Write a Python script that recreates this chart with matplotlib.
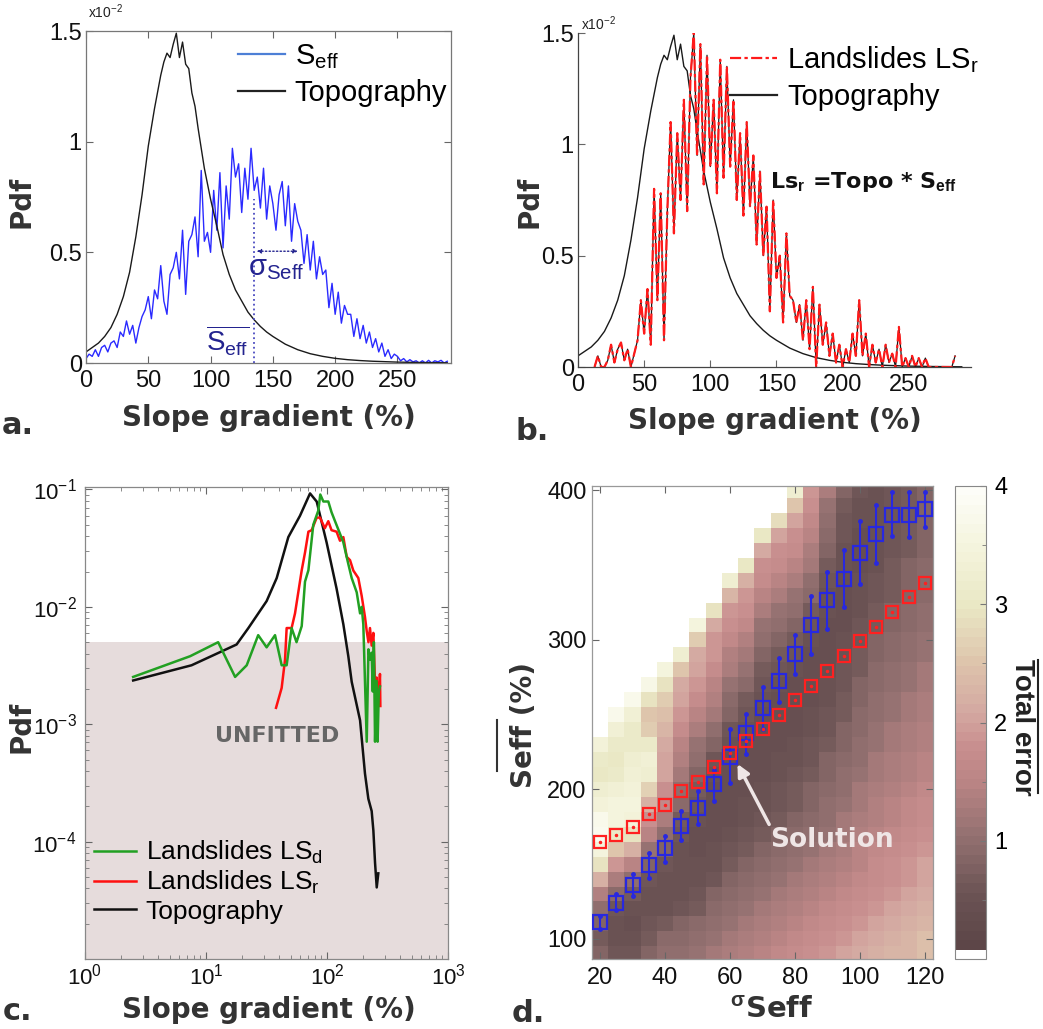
import numpy as np
import matplotlib
matplotlib.use("Agg")
import matplotlib.pyplot as plt
from matplotlib.colors import LinearSegmentedColormap, ListedColormap
from matplotlib.lines import Line2D
from matplotlib.ticker import FixedLocator

plt.rcParams['font.family'] = ['Liberation Sans', 'DejaVu Sans']
plt.rcParams['mathtext.fontset'] = 'custom'
plt.rcParams['mathtext.rm'] = 'Liberation Sans'
plt.rcParams['mathtext.it'] = 'Liberation Sans:italic'
plt.rcParams['mathtext.bf'] = 'Liberation Sans:bold'

# ---------------- data: panels a / b (pdf in units of 1e-2) ----------------
topo_x = [0, 5, 10, 15, 20, 25, 30, 35, 40, 45, 50, 55, 60, 62.5, 65, 67.5, 70,
          72.5, 75, 77.5, 80, 82.5, 85, 87.5, 90, 95, 100, 105, 110, 115, 120,
          125, 130, 135, 140, 145, 150, 160, 170, 180, 190, 200, 210, 220, 230,
          240, 250, 260, 270, 280, 290]
topo_pdf = [0.05, 0.07, 0.09, 0.12, 0.16, 0.22, 0.30, 0.41, 0.57, 0.76, 0.98,
            1.15, 1.30, 1.36, 1.40, 1.38, 1.44, 1.49, 1.38, 1.45, 1.35, 1.33,
            1.22, 1.16, 1.06, 0.88, 0.74, 0.62, 0.49, 0.40, 0.33, 0.28, 0.23,
            0.195, 0.165, 0.14, 0.12, 0.085, 0.06, 0.042, 0.03, 0.021, 0.015,
            0.011, 0.008, 0.006, 0.004, 0.003, 0.002, 0.0015, 0.001]

seff_x = np.arange(0, 290.1, 2.5)
seff_pdf = [0.02, 0.04, 0.03, 0.06, 0.03, 0.07, 0.08, 0.05, 0.09, 0.10,
            0.07, 0.14, 0.12, 0.19, 0.13, 0.17, 0.09, 0.16, 0.21, 0.24,
            0.30, 0.20, 0.33, 0.29, 0.44, 0.28, 0.22, 0.40, 0.43, 0.50,
            0.38, 0.60, 0.31, 0.55, 0.58, 0.66, 0.48, 0.87, 0.55, 0.59,
            0.50, 0.78, 0.60, 0.86, 0.52, 0.80, 0.65, 0.97, 0.84, 0.90,
            0.68, 0.88, 0.74, 0.97, 0.78, 0.84, 0.70, 0.88, 0.65, 0.80,
            0.72, 0.60, 0.76, 0.82, 0.62, 0.80, 0.55, 0.72, 0.64, 0.60,
            0.45, 0.58, 0.42, 0.55, 0.38, 0.48, 0.40, 0.42, 0.25, 0.36,
            0.22, 0.32, 0.18, 0.26, 0.22, 0.22, 0.12, 0.20, 0.11, 0.17,
            0.09, 0.14, 0.07, 0.11, 0.05, 0.09, 0.03, 0.06, 0.02, 0.04,
            0.03, 0.01, 0.02, 0.005, 0.015, 0.005, 0.01, 0.0, 0.01, 0.0,
            0.012, 0.0, 0.01, 0.005, 0.012, 0.0, 0.008]
seff_mean = 135
seff_mean_top = 0.74
sigma_span = (137, 170)
sigma_level = 0.505

lsr_x = np.arange(12.5, 285.1, 2.5)
lsr_pdf = [0.0, 0.05, 0.0, 0.0, 0.03, 0.10, 0.02, 0.08, 0.11, 0.03,
           0.08, 0.0, 0.06, 0.12, 0.30, 0.15, 0.35, 0.10, 0.80, 0.30,
           0.78, 0.12, 0.70, 1.10, 0.60, 1.05, 0.75, 1.20, 0.70, 1.30,
           1.50, 0.95, 1.45, 0.82, 1.40, 0.90, 1.20, 0.78, 1.38, 0.85,
           1.35, 0.90, 1.20, 0.75, 1.05, 0.68, 1.10, 0.72, 0.95, 0.55,
           0.88, 0.50, 0.72, 0.25, 0.75, 0.40, 0.50, 0.20, 0.60, 0.32,
           0.30, 0.20, 0.28, 0.12, 0.30, 0.08, 0.36, 0.0, 0.28, 0.10,
           0.20, 0.05, 0.15, 0.02, 0.10, 0.0, 0.08, 0.02, 0.15, 0.05,
           0.30, 0.05, 0.15, 0.0, 0.10, 0.02, 0.08, 0.0, 0.10, 0.02,
           0.06, 0.0, 0.18, 0.0, 0.04, 0.0, 0.05, 0.0, 0.04, 0.0,
           0.04, 0.0, 0.0, 0.0, 0.0, 0.0, 0.0, 0.0, 0.0, 0.05]

# ---------------- data: panel c (log-log) ----------------
topo_c_x = [2.5, 7.6, 17.9, 22.4, 31.7, 38.4, 47.9, 59.8, 72.4, 82.2, 99.3,
            120, 136.5, 150, 160, 187.6, 206, 219.6, 234, 241.7, 249.5, 257.6,
            265.5]
topo_c_y = [2.36e-3, 3.18e-3, 4.78e-3, 6.6e-3, 1.12e-2, 1.76e-2, 3.93e-2,
            5.97e-2, 9.26e-2, 7.89e-2, 3.53e-2, 1.43e-2, 7.1e-3, 3.8e-3,
            2.3e-3, 1.08e-3, 3.8e-4, 2.32e-4, 1.82e-4, 1.24e-4, 6.6e-5,
            4.07e-5, 5.37e-5]
lsr_c_x = [37.9, 42.2, 45, 46.4, 51, 54.4, 61.8, 65.8, 70.2, 74.7, 82.2, 87.5,
           96, 102.5, 109, 120, 128, 136.5, 145.5, 155, 165, 181.5, 193.5, 206,
           213, 220, 226.6, 234, 241.7, 249.5, 257, 265.5, 274, 276]
lsr_c_y = [1.38e-3, 2.04e-3, 3.55e-3, 6.6e-3, 6.6e-3, 8.8e-3, 2.05e-2, 2.9e-2,
           4.37e-2, 4.5e-2, 5.76e-2, 5.76e-2, 4.68e-2, 5.37e-2, 4.5e-2,
           4.37e-2, 3.66e-2, 3.93e-2, 2.67e-2, 2.5e-2, 2.04e-2, 1.76e-2,
           1.24e-2, 8.2e-3, 6.2e-3, 5.0e-3, 6.6e-3, 4.68e-3, 6.0e-3, 2.18e-3,
           2.5e-3, 1.43e-3, 2.68e-3, 1.43e-3]
lsd_c_x = [2.5, 7.4, 12.6, 17.4, 21.7, 27, 31.7, 37.2, 42.2, 46.4, 51, 56,
           61.8, 65.8, 70.2, 77, 84.7, 88, 93.3, 102.5, 109, 116.5, 128, 136.5,
           150, 160, 176, 187.6, 193.5, 199.6, 213, 220, 226.6, 234, 239, 244,
           249.5, 257, 262, 268, 274]
lsd_c_y = [2.53e-3, 3.8e-3, 5.0e-3, 2.53e-3, 3.18e-3, 5.74e-3, 4.52e-3,
           5.74e-3, 3.18e-3, 3.18e-3, 6.6e-3, 5.0e-3, 6.85e-3, 1.64e-2,
           2.05e-2, 5.0e-2, 6.6e-2, 9.06e-2, 7.9e-2, 7.9e-2, 6.4e-2, 5.37e-2,
           4.2e-2, 3.54e-2, 2.32e-2, 1.76e-2, 1.33e-2, 8.8e-3, 1.0e-2, 7.1e-3,
           7.1e-4, 4.35e-3, 3.55e-3, 4.07e-3, 1.9e-3, 5.0e-3, 7.1e-4, 2.34e-3,
           7.1e-4, 1.9e-3, 2.1e-3]
unfitted_level = 5e-3

# ---------------- data: panel d (total error grid) ----------------
sigma_cols = [20, 25, 30, 35, 40, 45, 50, 55, 60, 65, 70, 75, 80, 85, 90, 95,
              100, 105, 110, 115, 120]
seff_rows = list(range(90, 401, 10))
# one list per sigma column, values from Seff=90 upwards; missing top = blank
err_cols = [
    [0.8, 0.7, 0.8, 1.0, 1.4, 2.2, 2.9, 3.5, 3.8, 3.7, 3.4, 3.2, 3.0, 3.1, 3.4],
    [0.6, 0.5, 0.5, 0.6, 0.9, 1.3, 1.9, 2.5, 3.1, 3.5, 3.5, 3.3, 3.1, 3.0, 3.1,
     3.3, 3.7],
    [0.6, 0.5, 0.4, 0.5, 0.7, 1.0, 1.5, 2.2, 2.9, 3.4, 3.5, 3.4, 3.3, 3.2, 3.1,
     3.1, 3.3, 3.7],
    [0.8, 0.7, 0.6, 0.5, 0.5, 0.6, 0.8, 1.1, 1.5, 1.8, 2.2, 2.7, 3.2, 3.3, 3.1,
     2.6, 2.5, 2.9, 3.6],
    [1.0, 0.9, 0.7, 0.5, 0.5, 0.5, 0.6, 0.8, 1.0, 1.3, 1.6, 1.8, 2.0, 2.0, 2.1,
     2.3, 2.4, 2.6, 2.9, 3.5],
    [1.0, 0.9, 0.8, 0.6, 0.5, 0.5, 0.5, 0.5, 0.6, 0.7, 0.9, 1.0, 1.2, 1.4, 1.5,
     1.7, 1.9, 2.0, 2.1, 2.5, 3.2],
    [1.1, 1.0, 0.9, 0.7, 0.6, 0.5, 0.5, 0.4, 0.4, 0.5, 0.6, 0.7, 0.8, 1.0, 1.1,
     1.3, 1.5, 1.7, 1.9, 2.0, 2.1, 2.6, 3.5],
    [1.2, 1.1, 1.0, 0.9, 0.8, 0.6, 0.5, 0.5, 0.4, 0.4, 0.4, 0.4, 0.5, 0.6, 0.8,
     1.0, 1.2, 1.4, 1.5, 1.7, 1.9, 1.9, 2.1, 2.9],
    [1.3, 1.2, 1.1, 1.0, 0.9, 0.8, 0.7, 0.6, 0.5, 0.4, 0.4, 0.4, 0.4, 0.4, 0.5,
     0.6, 0.8, 0.9, 1.1, 1.3, 1.4, 1.6, 1.8, 1.9, 2.3, 3.2],
    [1.4, 1.3, 1.2, 1.1, 1.0, 0.9, 0.8, 0.7, 0.6, 0.5, 0.5, 0.4, 0.4, 0.4, 0.4,
     0.5, 0.6, 0.7, 0.9, 1.1, 1.2, 1.4, 1.6, 1.8, 1.9, 2.2, 3.0],
    [1.5, 1.4, 1.3, 1.2, 1.1, 1.0, 0.9, 0.8, 0.7, 0.6, 0.5, 0.5, 0.4, 0.4, 0.4,
     0.4, 0.4, 0.5, 0.6, 0.7, 0.8, 1.0, 1.1, 1.3, 1.5, 1.7, 1.8, 2.1, 3.0],
    [1.6, 1.5, 1.4, 1.3, 1.2, 1.1, 1.0, 0.9, 0.8, 0.7, 0.6, 0.6, 0.5, 0.5, 0.4,
     0.4, 0.4, 0.4, 0.5, 0.6, 0.7, 0.8, 1.0, 1.1, 1.3, 1.5, 1.7, 1.8, 2.0, 2.8],
    [1.7, 1.6, 1.5, 1.4, 1.3, 1.2, 1.1, 1.0, 0.9, 0.8, 0.7, 0.7, 0.6, 0.5, 0.5,
     0.4, 0.4, 0.4, 0.4, 0.5, 0.6, 0.7, 0.8, 1.0, 1.1, 1.3, 1.5, 1.7, 1.8, 2.0,
     2.5, 3.2],
    [1.8, 1.7, 1.6, 1.5, 1.4, 1.3, 1.2, 1.1, 1.0, 0.9, 0.8, 0.8, 0.7, 0.6, 0.6,
     0.5, 0.5, 0.4, 0.4, 0.4, 0.4, 0.5, 0.6, 0.7, 0.9, 1.0, 1.2, 1.3, 1.5, 1.6,
     1.8, 1.9],
    [1.9, 1.8, 1.7, 1.6, 1.5, 1.4, 1.3, 1.2, 1.1, 1.0, 1.0, 0.9, 0.8, 0.8, 0.7,
     0.6, 0.6, 0.5, 0.5, 0.4, 0.4, 0.4, 0.4, 0.5, 0.5, 0.6, 0.7, 0.8, 0.9, 1.0,
     1.1, 1.3],
    [2.0, 1.9, 1.8, 1.7, 1.6, 1.5, 1.4, 1.3, 1.2, 1.2, 1.1, 1.0, 1.0, 0.9, 0.8,
     0.8, 0.7, 0.7, 0.6, 0.6, 0.5, 0.5, 0.4, 0.4, 0.4, 0.4, 0.5, 0.5, 0.6, 0.6,
     0.7, 0.8],
    [2.1, 2.0, 1.9, 1.8, 1.7, 1.6, 1.5, 1.5, 1.4, 1.3, 1.2, 1.2, 1.1, 1.0, 1.0,
     0.9, 0.9, 0.8, 0.8, 0.7, 0.7, 0.6, 0.6, 0.5, 0.5, 0.5, 0.4, 0.4, 0.4, 0.5,
     0.5, 0.6],
    [2.2, 2.1, 2.0, 1.9, 1.8, 1.7, 1.7, 1.6, 1.5, 1.4, 1.4, 1.3, 1.2, 1.2, 1.1,
     1.1, 1.0, 1.0, 0.9, 0.9, 0.8, 0.8, 0.7, 0.7, 0.6, 0.6, 0.5, 0.5, 0.5, 0.5,
     0.5, 0.5],
    [2.3, 2.2, 2.1, 2.0, 1.9, 1.8, 1.8, 1.7, 1.6, 1.5, 1.5, 1.4, 1.3, 1.3, 1.2,
     1.2, 1.1, 1.1, 1.0, 1.0, 0.9, 0.9, 0.8, 0.8, 0.7, 0.7, 0.7, 0.6, 0.6, 0.6,
     0.6, 0.6],
    [2.3, 2.3, 2.2, 2.1, 2.0, 1.9, 1.9, 1.8, 1.7, 1.6, 1.6, 1.5, 1.4, 1.4, 1.3,
     1.3, 1.2, 1.2, 1.1, 1.1, 1.0, 1.0, 0.9, 0.9, 0.8, 0.8, 0.8, 0.7, 0.7, 0.7,
     0.7, 0.7],
    [2.4, 2.4, 2.3, 2.2, 2.1, 2.0, 2.0, 1.9, 1.8, 1.7, 1.7, 1.6, 1.5, 1.5, 1.4,
     1.4, 1.3, 1.3, 1.2, 1.2, 1.1, 1.1, 1.0, 1.0, 0.9, 0.9, 0.9, 0.8, 0.8, 0.8,
     0.8, 0.8],
]
fit_blue = [111.2, 124.3, 135.7, 149.3, 160.5, 175.5, 187.4, 203.3, 221.9,
            237.4, 254.5, 272.6, 290.5, 309.8, 326.7, 340.9, 358.3, 370.7,
            383.8, 383.8, 387.4]
fit_blue_hi = [115.5, 129.8, 143.3, 157.6, 169, 185.5, 198.6, 212.9, 240.2,
               250.5, 268.3, 287.9, 303.6, 329.1, 345.7, 360.5, 379.8, 390.2,
               398.8, 398.8, 399.3]
fit_blue_lo = [106.4, 119, 128.6, 141, 151.7, 166, 176.7, 192.1, 204, 223.8,
               240.2, 258.3, 277.1, 290.9, 307.6, 321.9, 337.4, 351.7, 369.3,
               368.8, 375.5]
fit_red = [164.8, 169.5, 174.7, 183.8, 189.7, 198.6, 204.8, 214.8, 224.3,
           232.6, 240.5, 249.8, 259.5, 269.5, 279.5, 289.3, 299.3, 308.8,
           318.4, 328.6, 338.1]
solution_xy = (62.3, 217)

# ---------------- layout helpers ----------------
W, H = 1043, 1029
fig = plt.figure(figsize=(W / 100, H / 100), dpi=100)


def box(l, t, r, b):
    return [l / W, 1 - b / H, (r - l) / W, (b - t) / H]


def fxy(x, y):
    return x / W, 1 - y / H


LAB = dict(family='DejaVu Sans', weight='bold', color='#333333')
NAVY = '#23238f'


def style(ax, spine='#777777', sides=True):
    ax.tick_params(direction='in', top=sides, right=sides, length=5, width=0.8,
                   color='#666666', labelcolor='#111111', labelsize=17)
    ax.tick_params(which='minor', direction='in', top=sides, right=sides,
                   length=3, width=0.6, color='#777777')
    for s in ax.spines.values():
        s.set_color(spine)
        s.set_linewidth(0.9)


# ---------------- panel a ----------------
ax_a = fig.add_axes(box(86, 31, 451, 363))
ax_a.plot(seff_x, seff_pdf, color='#2a2aff', lw=1.0)
ax_a.plot(topo_x, topo_pdf, color='#1a1a1a', lw=1.0)
ax_a.plot([seff_mean, seff_mean], [0, seff_mean_top], ls=':', color='#4a4ac0',
          lw=1.3)
ax_a.annotate('', xy=(sigma_span[0], sigma_level), xytext=(sigma_span[1], sigma_level),
              arrowprops=dict(arrowstyle='<|-|>', ls=':', color=NAVY, lw=1.0,
                              mutation_scale=6, shrinkA=0, shrinkB=0))
ax_a.text(153, 0.43, 'σ$_{\\mathrm{Seff}}$', color=NAVY, fontsize=21,
          ha='center', va='center')
ax_a.text(114, 0.10, r'$\overline{\mathrm{S}_{\mathrm{eff}}}$', color=NAVY,
          fontsize=20, ha='center', va='center')
ax_a.set_xlim(0, 293)
ax_a.set_ylim(0, 1.5)
ax_a.set_xticks([0, 50, 100, 150, 200, 250])
ax_a.set_yticks([0, 0.5, 1, 1.5])
ax_a.set_yticklabels(['0', '0.5', '1', '1.5'])
style(ax_a)
ax_a.tick_params(axis='x', pad=5)
ax_a.tick_params(axis='y', pad=3)
ax_a.legend([Line2D([], [], color='#4d7fd6', lw=1.6),
             Line2D([], [], color='#222222', lw=1.6)],
            ['S$_{\\mathrm{eff}}$', 'Topography'], loc='upper right',
            bbox_to_anchor=(0.99, 0.965), frameon=False, fontsize=21,
            handlelength=1.6, handletextpad=0.35, labelspacing=0.25,
            borderpad=0, borderaxespad=0)

# ---------------- panel b ----------------
ax_b = fig.add_axes(box(578, 33, 971, 367))
ax_b.plot(topo_x, topo_pdf, color='#1a1a1a', lw=1.0)
ax_b.plot(lsr_x, lsr_pdf, color='#1a1a1a', lw=0.9)
ax_b.plot(lsr_x, lsr_pdf, color='#ff1a1a', lw=1.6, ls=(0, (5, 1.5, 1.5, 1.5)))
ax_b.text(145, 0.83, r'Ls$_{\mathbf{r}}$ =Topo * S$_{\mathbf{eff}}$',
          fontsize=16, family='DejaVu Sans', weight='bold', color='#111111',
          ha='left', va='center')
ax_b.set_xlim(0, 297)
ax_b.set_ylim(0, 1.5)
ax_b.set_xticks([0, 50, 100, 150, 200, 250])
ax_b.set_yticks([0, 0.5, 1, 1.5])
ax_b.set_yticklabels(['0', '0.5', '1', '1.5'])
style(ax_b, spine='#444444', sides=False)
ax_b.spines['top'].set_visible(False)
ax_b.spines['right'].set_visible(False)
ax_b.tick_params(axis='x', pad=5)
ax_b.tick_params(axis='y', pad=3)
ax_b.legend([Line2D([], [], color='#ff1a1a', lw=1.6, ls=(0, (5, 1.5, 1.5, 1.5))),
             Line2D([], [], color='#222222', lw=1.6)],
            ['Landslides LS$_{\\mathrm{r}}$', 'Topography'], loc='upper right',
            bbox_to_anchor=(1.02, 0.965), frameon=False, fontsize=21,
            handlelength=1.6, handletextpad=0.35, labelspacing=0.25,
            borderpad=0, borderaxespad=0)

# ---------------- panel c ----------------
ax_c = fig.add_axes(box(85, 487, 448, 959))
ax_c.set_xscale('log')
ax_c.set_yscale('log')
ax_c.set_xlim(1, 1000)
ax_c.set_ylim(1e-5, 0.105)
ax_c.axhspan(1e-5, unfitted_level, color='#e6dcdc', lw=0, zorder=0)
ax_c.plot(topo_c_x, topo_c_y, color='#111111', lw=1.8, label='Topography')
ax_c.plot(lsr_c_x, lsr_c_y, color='#ff1010', lw=1.8,
          label='Landslides LS$_{\\mathrm{r}}$')
ax_c.plot(lsd_c_x, lsd_c_y, color='#22a022', lw=1.8,
          label='Landslides LS$_{\\mathrm{d}}$')
ax_c.text(38.6, 7.9e-4, 'UNFITTED', color='#666666', fontsize=16,
          family='DejaVu Sans', weight='bold', ha='center', va='center')
ax_c.set_xticks([1, 10, 100, 1000])
ax_c.set_yticks([1e-4, 1e-3, 1e-2, 1e-1])
style(ax_c, spine='#888888')
ax_c.tick_params(axis='both', labelsize=16)
ax_c.tick_params(axis='x', pad=3)
ax_c.tick_params(axis='y', pad=6)
hc, lc = ax_c.get_legend_handles_labels()
ax_c.legend(hc[::-1], lc[::-1], loc='lower left', bbox_to_anchor=(0.025, 0.075),
            frameon=False, fontsize=19, handlelength=1.6, handletextpad=0.35,
            labelspacing=0.12, borderpad=0, borderaxespad=0)

# ---------------- panel d ----------------
ax_d = fig.add_axes(box(592, 486, 933, 959))
grid = np.full((len(seff_rows), len(sigma_cols)), np.nan)
for j, col in enumerate(err_cols):
    grid[:len(col), j] = col
x_edges = np.append(np.array(sigma_cols) - 2.5, sigma_cols[-1] + 2.5)
y_edges = np.append(np.array(seff_rows) - 5, seff_rows[-1] + 5)

base = LinearSegmentedColormap.from_list('err', [
    (0.0, '#5a4446'), (0.125, '#6a5253'), (0.25, '#927070'), (0.375, '#bb8585'),
    (0.45, '#c98f8f'), (0.52, '#d3a7a1'), (0.625, '#ddc3ab'), (0.75, '#e9e7c4'),
    (0.875, '#f4f4dc'), (1.0, '#fdfdf8')])
levels = base(np.linspace(0, 1, 50))
levels[0] = (1, 1, 1, 1)
cmap = ListedColormap(levels)
cmap.set_bad('white')
mesh = ax_d.pcolormesh(x_edges, y_edges, np.ma.masked_invalid(grid), cmap=cmap,
                       vmin=0, vmax=4, shading='flat', antialiased=False)

blue = '#2828e0'
ax_d.vlines(sigma_cols, fit_blue_lo, fit_blue_hi, color=blue, lw=1.5, zorder=3)
ax_d.plot(sigma_cols, fit_blue_lo, '.', color=blue, ms=5, zorder=3)
ax_d.plot(sigma_cols, fit_blue_hi, '.', color=blue, ms=5, zorder=3)
ax_d.plot(sigma_cols, fit_blue, 's', mfc='none', mec=blue, mew=1.6, ms=10,
          zorder=4)
ax_d.plot(sigma_cols, fit_red, 's', mfc='none', mec='#ff2020', mew=1.6, ms=8,
          zorder=4)
ax_d.plot(sigma_cols, fit_red, '.', color='#ff2020', ms=3, zorder=4)
ax_d.annotate('Solution', xy=solution_xy, xytext=(72.5, 166),
              color='#efe6e6', fontsize=19, family='DejaVu Sans', weight='bold',
              ha='left', va='center',
              arrowprops=dict(arrowstyle='-|>', color='#efe6e6', lw=2.5,
                              mutation_scale=18, shrinkA=0, shrinkB=0,
                              relpos=(0.0, 1.0)))
ax_d.set_xlim(17.5, 122.5)
ax_d.set_ylim(86.5, 403)
ax_d.set_xticks([20, 40, 60, 80, 100, 120])
ax_d.set_yticks([100, 200, 300, 400])
style(ax_d, spine='#999999')
ax_d.tick_params(axis='x', pad=6)
ax_d.tick_params(axis='y', pad=4)

cax = fig.add_axes(box(955, 486, 986, 959))
cb = fig.colorbar(mesh, cax=cax, ticks=[1, 2, 3, 4])
cb.outline.set_edgecolor('#888888')
cax.tick_params(labelsize=17, direction='in', length=4, color='#777777', pad=6)
cax.yaxis.set_minor_locator(FixedLocator([0.5, 1.5, 2.5, 3.5]))
cax.tick_params(which='minor', direction='in', length=3, color='#777777')

# ---------------- figure-level labels ----------------
for (x, y), txt in [((269, 418), 'Slope gradient (%)'),
                    ((775, 421), 'Slope gradient (%)'),
                    ((269, 1010), 'Slope gradient (%)')]:
    fig.text(*fxy(x, y), txt, fontsize=20, ha='center', va='center', **LAB)
fig.text(*fxy(772, 1010), r'$^{\mathbf{σ}}$Seff', fontsize=21, ha='center',
         va='center', **LAB)
for (x, y) in [(22, 202), (530, 202), (22, 727)]:
    fig.text(*fxy(x, y), 'Pdf', fontsize=20, rotation=90, ha='center',
             va='center', **LAB)
fig.text(*fxy(524, 725), 'Seff (%)', fontsize=20, rotation=90, ha='center',
         va='center', **LAB)
fig.add_artist(Line2D([497 / W, 497 / W], [1 - 720 / H, 1 - 771 / H],
                      color='#333333', lw=1.5))
fig.text(*fxy(1022, 727), 'Total error', fontsize=20, rotation=270,
         ha='center', va='center', family='Liberation Sans', weight='bold',
         color='#222222')
fig.add_artist(Line2D([1038 / W, 1038 / W], [1 - 660 / H, 1 - 793 / H],
                      color='#222222', lw=1.5))
for (x, y), txt in [((18, 425), 'a.'), ((532, 432), 'b.'), ((18, 1011), 'c.'),
                    ((528, 1013), 'd.')]:
    fig.text(*fxy(x, y), txt, fontsize=22, ha='center', va='center', **LAB)
fig.text(*fxy(106, 12), r'x10$^{-2}$', fontsize=10, ha='center', va='center',
         color='#222222')
fig.text(*fxy(599, 24), r'x10$^{-2}$', fontsize=10, ha='center', va='center',
         color='#222222')

fig.savefig('out.png', dpi=100)
